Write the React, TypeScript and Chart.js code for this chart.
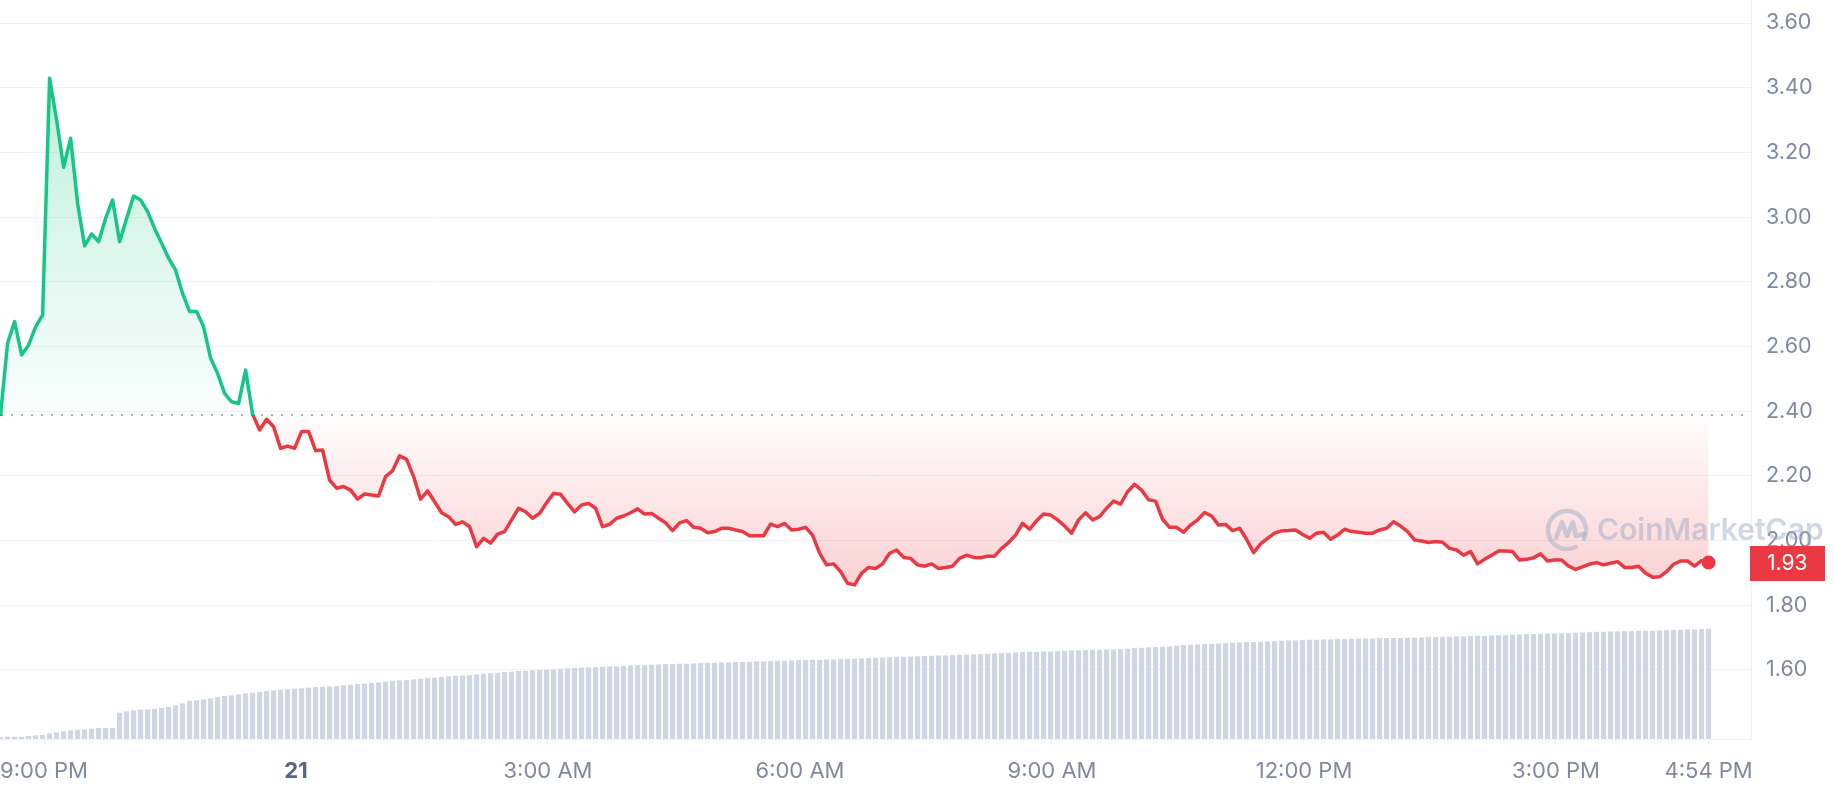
import React, { useEffect, useRef } from 'react';
import { Chart, registerables } from 'chart.js';

Chart.register(...registerables);

// ---- data (time in minutes relative to 9:00 PM, 5-minute samples) ----
const START_MINUTE = -31; // 8:29 PM
const STEP_MINUTES = 5;
const OPEN_PRICE = 2.389;
const CURRENT_LABEL = '1.93';

const PRICES = [
  2.390, 2.611, 2.677, 2.574, 2.605, 2.661, 2.697, 3.429, 3.300, 3.154,
  3.244, 3.043, 2.911, 2.948, 2.924, 2.996, 3.053, 2.924, 2.996, 3.065,
  3.053, 3.017, 2.965, 2.919, 2.873, 2.836, 2.764, 2.708, 2.708, 2.661,
  2.564, 2.517, 2.455, 2.429, 2.424, 2.527, 2.391, 2.342, 2.375, 2.352,
  2.285, 2.292, 2.285, 2.337, 2.337, 2.278, 2.280, 2.187, 2.162, 2.167,
  2.156, 2.128, 2.144, 2.141, 2.138, 2.198, 2.216, 2.262, 2.251, 2.198,
  2.128, 2.154, 2.120, 2.086, 2.074, 2.050, 2.058, 2.043, 1.981, 2.007,
  1.992, 2.020, 2.028, 2.064, 2.100, 2.089, 2.069, 2.084, 2.117, 2.146,
  2.143, 2.115, 2.089, 2.110, 2.115, 2.100, 2.043, 2.050, 2.069, 2.076,
  2.086, 2.098, 2.082, 2.084, 2.069, 2.055, 2.031, 2.055, 2.062, 2.041,
  2.038, 2.024, 2.028, 2.038, 2.038, 2.033, 2.028, 2.015, 2.015, 2.015,
  2.051, 2.043, 2.053, 2.033, 2.035, 2.041, 2.017, 1.961, 1.925, 1.928,
  1.904, 1.868, 1.863, 1.899, 1.917, 1.914, 1.928, 1.961, 1.971, 1.948,
  1.945, 1.925, 1.921, 1.928, 1.914, 1.917, 1.921, 1.945, 1.955, 1.948,
  1.947, 1.952, 1.952, 1.976, 1.994, 2.017, 2.053, 2.035, 2.061, 2.082,
  2.079, 2.064, 2.045, 2.023, 2.064, 2.086, 2.064, 2.074, 2.100, 2.122,
  2.113, 2.151, 2.174, 2.156, 2.126, 2.122, 2.066, 2.041, 2.041, 2.026,
  2.048, 2.064, 2.087, 2.076, 2.048, 2.050, 2.031, 2.038, 2.004, 1.963,
  1.990, 2.007, 2.023, 2.030, 2.031, 2.033, 2.019, 2.007, 2.023, 2.026,
  2.004, 2.017, 2.035, 2.028, 2.026, 2.023, 2.023, 2.033, 2.038, 2.058,
  2.045, 2.028, 2.002, 1.999, 1.994, 1.997, 1.995, 1.976, 1.971, 1.955,
  1.966, 1.928, 1.942, 1.955, 1.968, 1.968, 1.966, 1.940, 1.942, 1.947,
  1.959, 1.937, 1.940, 1.940, 1.921, 1.911, 1.919, 1.927, 1.932, 1.925,
  1.930, 1.935, 1.917, 1.917, 1.921, 1.899, 1.887, 1.888, 1.904, 1.927,
  1.937, 1.937, 1.921, 1.938, 1.932,
];

// cumulative volume (relative units)
const VOLUMES = [
  5, 6, 6, 6, 8, 10, 11, 16, 19, 22,
  25, 27, 28, 30, 32, 32, 32, 78, 82, 85,
  87, 88, 90, 92, 95, 100, 106, 113, 115, 118,
  121, 125, 128, 130, 133, 136, 138, 140, 143, 145,
  147, 148, 150, 151, 153, 155, 156, 157, 158, 160,
  162, 164, 165, 167, 169, 171, 174, 175, 176, 178,
  180, 182, 183, 185, 187, 189, 190, 191, 193, 195,
  197, 198, 200, 201, 203, 204, 205, 206, 207, 208,
  210, 211, 212, 213, 214, 215, 216, 217, 217, 218,
  220, 221, 221, 222, 223, 224, 224, 225, 225, 226,
  227, 228, 228, 229, 229, 230, 230, 231, 232, 232,
  233, 234, 234, 235, 236, 236, 237, 237, 238, 238,
  239, 239, 240, 241, 242, 243, 244, 245, 246, 246,
  247, 247, 248, 249, 250, 250, 251, 252, 252, 253,
  254, 255, 256, 257, 258, 259, 260, 261, 261, 262,
  262, 263, 264, 265, 265, 266, 267, 267, 268, 268,
  269, 270, 272, 273, 274, 275, 276, 277, 279, 281,
  282, 283, 284, 285, 286, 287, 288, 289, 290, 290,
  291, 292, 293, 294, 295, 295, 296, 297, 297, 298,
  298, 299, 299, 300, 300, 301, 301, 302, 302, 302,
  302, 303, 303, 304, 305, 305, 306, 306, 307, 307,
  308, 309, 309, 310, 311, 311, 312, 313, 314, 314,
  315, 316, 316, 317, 317, 318, 319, 320, 321, 321,
  322, 322, 323, 323, 324, 324, 324, 325, 326, 327,
  327, 328, 328, 329, 330,
];

const X_TICK_VALUES = [0, 180, 360, 540, 720, 900, 1080, 1189];
const X_TICK_LABELS = ['9:00 PM', '21', '3:00 AM', '6:00 AM', '9:00 AM', '12:00 PM', '3:00 PM', '4:54 PM'];
const Y_TICKS = [1.6, 1.8, 2.0, 2.2, 2.4, 2.6, 2.8, 3.0, 3.2, 3.4, 3.6];

const X_MIN = -31.43;
const X_MAX = 1219.3;
const Y_MIN = 1.3867;
const Y_MAX = 3.6711;
const VOL_MAX = 2219;

const GREEN = '#16c784';
const RED = '#ea3943';
const GRID = '#eff2f5';
const LABEL = '#808a9d';
const FONT = 'Inter';

const TIMES = PRICES.map((_, i) => START_MINUTE + i * STEP_MINUTES);

function strokeGradient(c: any) {
  const chart = c.chart;
  const area = chart.chartArea;
  if (!area || !chart.scales.y) return GREEN;
  const yb = chart.scales.y.getPixelForValue(OPEN_PRICE);
  const r = Math.min(1, Math.max(0, (yb - area.top) / (area.bottom - area.top)));
  const g = chart.ctx.createLinearGradient(0, area.top, 0, area.bottom);
  g.addColorStop(0, GREEN);
  g.addColorStop(r, GREEN);
  g.addColorStop(Math.min(1, r + 0.0001), RED);
  g.addColorStop(1, RED);
  return g;
}

function fillGradient(c: any) {
  const chart = c.chart;
  const area = chart.chartArea;
  if (!area || !chart.scales.y) return 'rgba(0,0,0,0)';
  const ys = chart.scales.y;
  const h = area.bottom - area.top;
  const rel = (v: number) => Math.min(1, Math.max(0, (ys.getPixelForValue(v) - area.top) / h));
  const rTop = rel(3.45);
  const rBase = rel(OPEN_PRICE);
  const rLow = rel(1.85);
  const g = chart.ctx.createLinearGradient(0, area.top, 0, area.bottom);
  g.addColorStop(0, 'rgba(22,199,132,0.30)');
  g.addColorStop(rTop, 'rgba(22,199,132,0.28)');
  g.addColorStop(rBase, 'rgba(22,199,132,0.02)');
  g.addColorStop(Math.min(1, rBase + 0.0001), 'rgba(234,57,67,0.01)');
  g.addColorStop(rLow, 'rgba(234,57,67,0.24)');
  g.addColorStop(1, 'rgba(234,57,67,0.26)');
  return g;
}

const baselinePlugin = {
  id: 'openBaseline',
  beforeDatasetsDraw(chart: any) {
    const { ctx, chartArea, scales } = chart;
    const y = Math.round(scales.y.getPixelForValue(OPEN_PRICE));
    ctx.save();
    ctx.setLineDash([2, 8]);
    ctx.strokeStyle = '#a6b0c3';
    ctx.lineWidth = 2;
    ctx.beginPath();
    ctx.moveTo(chartArea.left + 1, y);
    ctx.lineTo(chartArea.right, y);
    ctx.stroke();
    ctx.restore();
  },
};

const watermarkPlugin = {
  id: 'watermark',
  afterDatasetsDraw(chart: any) {
    const { ctx, chartArea } = chart;
    const cx = chartArea.right - 184;
    const cy = chartArea.bottom - 209;
    ctx.save();
    ctx.globalAlpha = 0.45;
    ctx.strokeStyle = '#94a7c4';
    ctx.fillStyle = '#94a7c4';
    ctx.lineWidth = 4.5;
    ctx.lineCap = 'round';
    ctx.lineJoin = 'round';
    ctx.beginPath();
    ctx.arc(cx, cy, 19, 0.35 * Math.PI, 2.15 * Math.PI, false);
    ctx.stroke();
    ctx.beginPath();
    ctx.moveTo(cx - 11, cy + 8);
    ctx.lineTo(cx - 5, cy - 8);
    ctx.lineTo(cx + 0, cy + 6);
    ctx.lineTo(cx + 6, cy - 8);
    ctx.lineTo(cx + 9, cy + 6);
    ctx.lineTo(cx + 17, cy + 4);
    ctx.stroke();
    ctx.font = `600 30px ${FONT}`;
    ctx.textBaseline = 'middle';
    ctx.textAlign = 'left';
    ctx.fillText('CoinMarketCap', cx + 30, cy + 1);
    ctx.restore();
  },
};

const priceTagPlugin = {
  id: 'priceTag',
  afterDraw(chart: any) {
    const { ctx, chartArea, scales } = chart;
    const y = scales.y.getPixelForValue(PRICES[PRICES.length - 1]);
    ctx.save();
    ctx.fillStyle = RED;
    ctx.fillRect(chartArea.right - 1, Math.round(y - 17), 75, 35);
    ctx.fillStyle = '#ffffff';
    ctx.font = `21px ${FONT}`;
    ctx.textBaseline = 'middle';
    ctx.textAlign = 'left';
    ctx.fillText(CURRENT_LABEL, chartArea.right + 16, y + 1);
    ctx.restore();
  },
};

function zeroPadding(s: any) {
  s.paddingLeft = 0;
  s.paddingRight = 0;
  s.paddingTop = 0;
  s.paddingBottom = 0;
}

export default function App() {
  const ref = useRef<HTMLCanvasElement | null>(null);

  useEffect(() => {
    document.body.style.margin = '0';
    const canvas = ref.current;
    if (!canvas) return;
    Chart.defaults.font.family = FONT;

    const lastIdx = PRICES.length - 1;
    const priceData = PRICES.map((p, i) => ({ x: TIMES[i], y: p }));
    const volData = VOLUMES.map((v, i) => ({ x: TIMES[i], y: v }));

    const chart = new Chart(canvas, {
      type: 'bar',
      data: {
        datasets: [
          {
            type: 'line',
            data: priceData,
            yAxisID: 'y',
            xAxisID: 'x',
            order: 0,
            borderColor: strokeGradient,
            backgroundColor: fillGradient,
            borderWidth: 3.5,
            borderJoinStyle: 'round',
            borderCapStyle: 'round',
            tension: 0,
            fill: { value: OPEN_PRICE },
            pointRadius: (c: any) => (c.dataIndex === lastIdx ? 7 : 0),
            pointBackgroundColor: RED,
            pointBorderWidth: 0,
            pointHoverRadius: 0,
          } as any,
          {
            type: 'bar',
            data: volData,
            yAxisID: 'yVol',
            xAxisID: 'x',
            order: 1,
            backgroundColor: '#cfd6e4',
            borderWidth: 0,
            barThickness: 4.5,
          } as any,
        ],
      },
      options: {
        animation: false,
        responsive: false,
        devicePixelRatio: 1,
        events: [],
        layout: { padding: 0, autoPadding: false },
        plugins: {
          legend: { display: false },
          tooltip: { enabled: false },
        },
        scales: {
          x: {
            type: 'linear',
            position: 'bottom',
            min: X_MIN,
            max: X_MAX,
            offset: false,
            afterBuildTicks: (s: any) => {
              s.ticks = X_TICK_VALUES.map((v) => ({ value: v }));
            },
            afterFit: (s: any) => {
              s.height = 53;
              zeroPadding(s);
            },
            ticks: {
              autoSkip: false,
              maxRotation: 0,
              minRotation: 0,
              padding: 13,
              callback: (_v: any, i: number) => X_TICK_LABELS[i],
              color: (c: any) => (X_TICK_LABELS[c.index] === '21' ? '#58667e' : LABEL),
              font: (c: any) => ({
                family: FONT,
                size: 22,
                weight: X_TICK_LABELS[c.index] === '21' ? 'bold' : 'normal',
              }),
            },
            grid: { drawOnChartArea: false, drawTicks: true, tickLength: 6, color: GRID, offset: false },
            border: { display: true, color: GRID, width: 1 },
          } as any,
          y: {
            type: 'linear',
            position: 'right',
            min: Y_MIN,
            max: Y_MAX,
            afterBuildTicks: (s: any) => {
              s.ticks = Y_TICKS.map((v) => ({ value: v }));
            },
            afterFit: (s: any) => {
              s.width = 83;
              zeroPadding(s);
            },
            ticks: {
              padding: 15,
              color: LABEL,
              font: { family: FONT, size: 21.5 },
              callback: (v: any) => Number(v).toFixed(2),
            },
            grid: { color: GRID, drawTicks: false },
            border: { display: true, color: GRID },
          } as any,
          yVol: {
            type: 'linear',
            display: false,
            min: 0,
            max: VOL_MAX,
          } as any,
        },
      },
      plugins: [baselinePlugin, watermarkPlugin, priceTagPlugin],
    });

    return () => {
      chart.destroy();
    };
  }, []);

  return (
    <div style={{ position: 'absolute', left: 0, top: 0, width: 1834, height: 792, background: '#ffffff' }}>
      <canvas ref={ref} width={1834} height={792} style={{ display: 'block' }} />
    </div>
  );
}
